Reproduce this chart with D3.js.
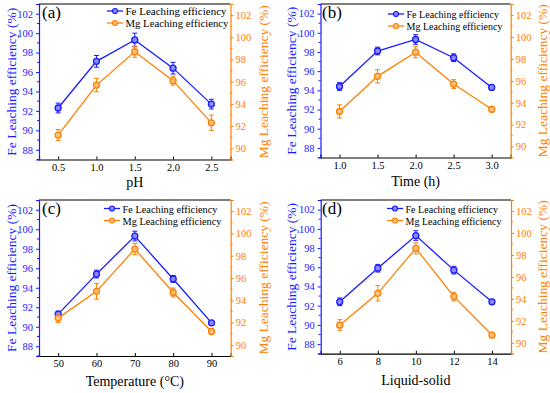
<!DOCTYPE html>
<html><head><meta charset="utf-8">
<script src="https://cdn.jsdelivr.net/npm/d3@7/dist/d3.min.js"></script>
<style>body{margin:0;background:#fff}svg{display:block}svg text{font-family:"Liberation Serif","Times New Roman",Times,serif !important}</style>
</head><body><svg id="c" width="550" height="393"></svg>
<script>
// ---- data ----
const xA = [0.5, 1.0, 1.5, 2.0, 2.5];
const feA = [92.3, 97.1, 99.3, 96.4, 92.7];
const feAerr = [0.5, 0.6, 0.7, 0.6, 0.5];
const mgA = [91.2, 95.7, 98.7, 96.1, 92.3];
const mgAerr = [0.5, 0.6, 0.5, 0.4, 0.7];

const xB = [1.0, 1.5, 2.0, 2.5, 3.0];
const feB = [94.4, 98.1, 99.3, 97.4, 94.3];
const feBerr = [0.4, 0.4, 0.5, 0.4, 0.25];
const mgB = [93.2, 96.4, 98.6, 95.7, 93.4];
const mgBerr = [0.6, 0.6, 0.5, 0.4, 0.25];

const xC = [50, 60, 70, 80, 90];
const feC = [91.3, 95.4, 99.3, 94.9, 90.4];
const feCerr = [0.3, 0.4, 0.5, 0.35, 0.2];
const mgC = [92.4, 94.8, 98.6, 94.7, 91.2];
const mgCerr = [0.4, 0.7, 0.5, 0.4, 0.25];

const xD = [6, 8, 10, 12, 14];
const feD = [92.4, 95.9, 99.3, 95.7, 92.4];
const feDerr = [0.4, 0.4, 0.5, 0.4, 0.25];
const mgD = [91.6, 94.5, 98.6, 94.2, 90.7];
const mgDerr = [0.5, 0.7, 0.5, 0.4, 0.25];

const leftTicks = [88, 90, 92, 94, 96, 98, 100, 102];
const rightTicks = [90, 92, 94, 96, 98, 100, 102];
const xTicksA = ["0.5", "1.0", "1.5", "2.0", "2.5"];
const xTicksB = ["1.0", "1.5", "2.0", "2.5", "3.0"];
const xTicksC = ["50", "60", "70", "80", "90"];
const xTicksD = ["6", "8", "10", "12", "14"];
const xTitles = ["pH", "Time (h)", "Temperature (\u00B0C)", "Liquid-solid"];
const panelLabels = ["(a)", "(b)", "(c)", "(d)"];
const seriesNames = ["Fe Leaching efficiency", "Mg Leaching efficiency"];
const yTitleL = "Fe Leaching efficiency (%)";
const yTitleR = "Mg Leaching efficiency (%)";

// ---- layout ----
const FONT = "Liberation Serif, Times New Roman, Times, serif";
const BLUE = "#1a1aff", ORANGE = "#ff8000";
const panels = [
  {x: xA, fe: feA, feE: feAerr, mg: mgA, mgE: mgAerr, xt: xTicksA, xd: [0.25, 2.75], box: [39, 230.5, 4, 159.5], leg: [107, 11], legW: [101, 103], lab: [42, 18], xtY: 187, ylx: 11, yrx: 263},
  {x: xB, fe: feB, feE: feBerr, mg: mgB, mgE: mgBerr, xt: xTicksB, xd: [0.75, 3.25], box: [320.5, 510.7, 4, 157.5], leg: [388, 14], legW: [92.5, 96], lab: [322, 18], xtY: 186, ylx: 291, yrx: 542},
  {x: xC, fe: feC, feE: feCerr, mg: mgC, mgE: mgCerr, xt: xTicksC, xd: [45, 95], box: [39, 230.7, 200, 356], leg: [104, 208.5], legW: [95, 99], lab: [42, 214], xtY: 386, ylx: 11, yrx: 263},
  {x: xD, fe: feD, feE: feDerr, mg: mgD, mgE: mgDerr, xt: xTicksD, xd: [5, 15], box: [320.7, 511, 200, 353.7], leg: [387, 208.5], legW: [92.5, 96], lab: [322, 214], xtY: 385, ylx: 291, yrx: 542}
];

const svg = d3.select("#c").attr("font-family", FONT);

panels.forEach((p, i) => {
  const [L, R, T, B] = p.box;
  const g = svg.append("g");
  const x = d3.scaleLinear().domain(p.xd).range([L, R]);
  const yl = d3.scaleLinear().domain([87, 103]).range([B, T]);
  const yr = d3.scaleLinear().domain([89, 103]).range([B, T]);

  // top border
  g.append("line").attr("x1", L).attr("x2", R).attr("y1", T).attr("y2", T).attr("stroke", "#000").attr("stroke-width", 1);

  // x axis
  const xv = p.xt.map(Number);
  const step = xv[1] - xv[0];
  const xMinor = d3.range(p.xd[0] + step / 2, p.xd[1], step).filter(v => !xv.some(t => Math.abs(t - v) < 1e-9));
  const ax = g.append("g").attr("transform", `translate(0,${B})`);
  ax.call(d3.axisBottom(x).tickValues(xv).tickSize(-3).tickFormat((d, k) => p.xt[k]).tickPadding(5));
  ax.attr("font-family", FONT);
  ax.select(".domain").attr("stroke", "#000").attr("stroke-width", 1.2);
  ax.selectAll(".tick line").attr("stroke", "#000");
  ax.selectAll(".tick text").attr("font-size", 10.5).attr("fill", "#000").attr("dy", "0.6em");
  ax.selectAll(".minor").data(xMinor).enter().append("line").attr("x1", d => x(d)).attr("x2", d => x(d)).attr("y1", 0).attr("y2", -2).attr("stroke", "#000");

  // left axis
  const aL = g.append("g").attr("transform", `translate(${L},0)`);
  aL.call(d3.axisLeft(yl).tickValues(leftTicks).tickSize(3).tickPadding(3));
  aL.attr("font-family", FONT);
  aL.select(".domain").attr("stroke", BLUE).attr("stroke-width", 1.2);
  aL.selectAll(".tick line").attr("stroke", BLUE);
  aL.selectAll(".tick text").attr("font-size", 10.5).attr("fill", BLUE);
  aL.selectAll(".minor").data(d3.range(87, 103, 2)).enter().append("line").attr("x1", 0).attr("x2", -2).attr("y1", d => yl(d)).attr("y2", d => yl(d)).attr("stroke", BLUE);

  // right axis
  const aR = g.append("g").attr("transform", `translate(${R},0)`);
  aR.call(d3.axisRight(yr).tickValues(rightTicks).tickSize(3).tickPadding(2));
  aR.attr("font-family", FONT);
  aR.select(".domain").attr("stroke", ORANGE).attr("stroke-width", 1.2);
  aR.selectAll(".tick line").attr("stroke", ORANGE);
  aR.selectAll(".tick text").attr("font-size", 10.5).attr("fill", ORANGE);
  aR.selectAll(".minor").data(d3.range(91, 103, 2)).enter().append("line").attr("x1", 0).attr("x2", 2).attr("y1", d => yr(d)).attr("y2", d => yr(d)).attr("stroke", ORANGE);

  // axis titles
  g.append("text").attr("x", (L + R) / 2).attr("y", p.xtY).attr("text-anchor", "middle").attr("font-size", 14).text(xTitles[i]);
  g.append("text").attr("transform", `translate(${p.ylx + 4.5},${(T + B) / 2}) rotate(-90)`).attr("text-anchor", "middle").attr("font-size", 13.5).attr("fill", BLUE).text(yTitleL);
  g.append("text").attr("transform", `translate(${p.yrx + 4.5},${(T + B) / 2}) rotate(-90)`).attr("text-anchor", "middle").attr("font-size", 13.5).attr("fill", ORANGE).text(yTitleR);

  // panel label
  g.append("text").attr("x", p.lab[0]).attr("y", p.lab[1]).attr("font-size", 17).text(panelLabels[i]);

  // series
  const series = [
    {v: p.fe, e: p.feE, y: yl, c: BLUE, f: "#8a8aff"},
    {v: p.mg, e: p.mgE, y: yr, c: ORANGE, f: "#ffbf80"}
  ];
  series.forEach(s => {
    const pts = p.x.map((xx, k) => ({x: xx, v: s.v[k], e: s.e[k]}));
    g.append("path").datum(pts).attr("fill", "none").attr("stroke", s.c).attr("stroke-width", 1.3)
      .attr("d", d3.line().x(d => x(d.x)).y(d => s.y(d.v)));
    const eb = g.append("g").selectAll("g").data(pts).enter().append("g");
    eb.append("line").attr("x1", d => x(d.x)).attr("x2", d => x(d.x)).attr("y1", d => s.y(d.v - d.e)).attr("y2", d => s.y(d.v + d.e)).attr("stroke", s.c).attr("stroke-width", 1);
    eb.append("line").attr("x1", d => x(d.x) - 2.5).attr("x2", d => x(d.x) + 2.5).attr("y1", d => s.y(d.v - d.e)).attr("y2", d => s.y(d.v - d.e)).attr("stroke", s.c).attr("stroke-width", 1);
    eb.append("line").attr("x1", d => x(d.x) - 2.5).attr("x2", d => x(d.x) + 2.5).attr("y1", d => s.y(d.v + d.e)).attr("y2", d => s.y(d.v + d.e)).attr("stroke", s.c).attr("stroke-width", 1);
    eb.append("circle").attr("cx", d => x(d.x)).attr("cy", d => s.y(d.v)).attr("r", 3).attr("fill", s.f).attr("stroke", s.c).attr("stroke-width", 1.3);
  });

  // legend
  const lg = g.append("g").attr("transform", `translate(${p.leg[0]},${p.leg[1]})`);
  [BLUE, ORANGE].forEach((c, k) => {
    const yy = k * 12;
    lg.append("line").attr("x1", 0).attr("x2", 16).attr("y1", yy).attr("y2", yy).attr("stroke", c).attr("stroke-width", 1.3);
    lg.append("circle").attr("cx", 8).attr("cy", yy).attr("r", 2.5).attr("fill", k ? "#ffbf80" : "#8a8aff").attr("stroke", c).attr("stroke-width", 1.2);
    lg.append("text").attr("x", 18.5).attr("y", yy + 4).attr("font-size", 11).attr("fill", "#000")
      .attr("textLength", p.legW[k]).attr("lengthAdjust", "spacingAndGlyphs").text(seriesNames[k]);
  });
});
</script></body></html>
